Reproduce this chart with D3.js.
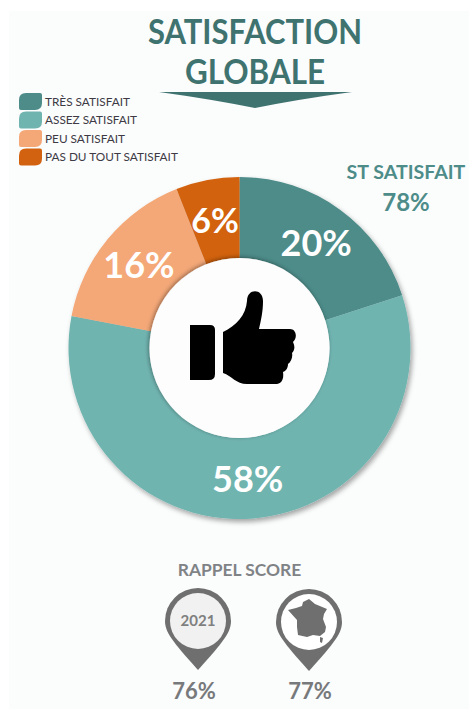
<!DOCTYPE html>
<html><head><meta charset="utf-8">
<script src="https://cdn.jsdelivr.net/npm/d3@7"></script>
<style>html,body{margin:0;padding:0;background:#fff}svg{display:block}text{font-family:Lato,sans-serif}</style>
</head><body><svg id="c" width="469" height="709"></svg>
<script>
const categories=["TRÈS SATISFAIT","ASSEZ SATISFAIT","PEU SATISFAIT","PAS DU TOUT SATISFAIT"];
const values=[20,58,16,6];
const colors=["#4d8c89","#70b4b0","#f4a878","#d2620f"];
const titleLines=["SATISFACTION","GLOBALE"];
const recallYears=["2021","France"];
const recallValues=["76%","77%"];

const svg=d3.select("#c");
const defs=svg.append("defs");
const f=defs.append("filter").attr("id","sh").attr("x","-10%").attr("y","-10%").attr("width","120%").attr("height","120%");
f.append("feDropShadow").attr("dx",2).attr("dy",3).attr("stdDeviation",2.5).attr("flood-color","#000").attr("flood-opacity",.35);
const ins=defs.append("filter").attr("id","ins").attr("x","-10%").attr("y","-10%").attr("width","120%").attr("height","120%");
ins.append("feDropShadow").attr("dx",-1).attr("dy",-1).attr("stdDeviation",2).attr("flood-color","#000").attr("flood-opacity",.4);

svg.append("rect").attr("x",9).attr("y",11).attr("width",460).attr("height",698).attr("fill","#fbfcfc");

// title
const dark="#3f7370";
svg.selectAll("text.t").data(titleLines).join("text").attr("class","t")
 .attr("x",255).attr("y",(d,i)=>44+i*40).attr("text-anchor","middle")
 .attr("font-size",34).attr("font-weight",700).attr("fill",dark).attr("textLength",(d,i)=>i?140:214).attr("lengthAdjust","spacingAndGlyphs").text(d=>d);
svg.append("path").attr("d","M159,92 L352,92 Q300,99 255,108 Q210,99 159,92Z").attr("fill",dark);

// legend
const ly=d3.scaleBand().domain(categories).range([93,167]).paddingInner(0);
const lg=svg.append("g").selectAll("g").data(categories).join("g").attr("transform",d=>`translate(19,${ly(d)})`);
lg.append("path").attr("d","M0,7 Q0,0 7,0 L21,0 Q23,0 23,2 L23,10 Q23,17 16,17 L2,17 Q0,17 0,15Z").attr("fill",(d,i)=>colors[i]);
lg.append("text").attr("x",26).attr("y",12.5).attr("font-size",11.8).attr("fill","#3d3a44").text(d=>d);

// ST
svg.append("text").attr("x",406).attr("y",179).attr("text-anchor","middle").attr("font-size",19.6).attr("font-weight",700).attr("fill","#4d8c89").text("ST SATISFAIT");
svg.append("text").attr("x",406).attr("y",211).attr("text-anchor","middle").attr("font-size",24).attr("font-weight",700).attr("fill","#4d8c89").text(d3.sum(values.slice(0,2))+"%");

// donut
const cx=239.5,cy=348,R=171,r=90;
const pie=d3.pie().sort(null)(values);
const arc=d3.arc().innerRadius(r).outerRadius(R);
const dg=svg.append("g").attr("transform",`translate(${cx},${cy})`);
dg.append("g").attr("filter","url(#sh)").selectAll("path").data(pie).join("path").attr("d",arc).attr("fill",(d,i)=>colors[i]);
dg.append("circle").attr("r",r).attr("fill","#fdfdfd").attr("filter","url(#ins)");
dg.selectAll("text").data(pie).join("text")
 .attr("x",d=>arc.centroid(d)[0])
 .attr("y",d=>arc.centroid(d)[1]+1)
 .attr("dy","0.35em").attr("text-anchor","middle").attr("font-size",(d,i)=>i==3?34:36).attr("font-weight",700).attr("fill","#fff").text(d=>d.value+"%");

// thumb
const th=svg.append("g").attr("fill","#000");
th.append("path").attr("d","M190,325 L210,325 Q215,325 215,330 L215,374 Q215,380 209,380 L190,380Z");
th.append("path").attr("d","M223,332 C236,326 246,315 247,301 C247,288 263,288 263,301 C263,312 261,320 259,329 L290,329 C296,329 298,337 293,342 C295,346 295,350 292,353 C293,357 291,362 288,364 C288,368 286,371 283,372 C284,379 282,384 275,384 L247,384 C236,384 232,376 223,373Z");

// recall
svg.append("text").attr("x",239.5).attr("y",576).attr("text-anchor","middle").attr("font-size",17.4).attr("font-weight",700).attr("fill","#7f8386").text("RAPPEL SCORE");
const grey="#6f6f6f";
const px=d3.scalePoint().domain(recallYears).range([198,309]);
const pins=svg.append("g").selectAll("g").data(recallYears).join("g").attr("transform",(d,i)=>`translate(${px(d)},${621+i})`);
pins.append("path").attr("d","M-33,0 A33,33 0 1 1 33,0 C33,11 26,20 0,49 C-26,20 -33,11 -33,0Z").attr("fill",grey);
pins.append("circle").attr("r",28).attr("fill",(d,i)=>i?"#fff":"#f1f1f1");
pins.filter((d,i)=>i==0).append("text").attr("y",5).attr("text-anchor","middle").attr("font-size",15).attr("font-weight",700).attr("fill","#7f7f7f").text(d=>d);
pins.filter((d,i)=>i==1).append("path").attr("fill",grey).attr("d","M0,-23 L6,-18 L18,-13 L15,-8 L14,-3 L17,5 L16,10 L11,14 L4,13 L-2,15 L-11,13 L-12,5 L-12,-2 L-21,-12 L-13,-14 L-7,-16 L-6,-20Z M11,15 L14,16 L13,21 L11,20Z");
svg.selectAll("text.v").data(recallValues).join("text").attr("class","v")
 .attr("x",(d,i)=>[194,310][i]).attr("y",699).attr("text-anchor","middle").attr("font-size",22).attr("font-weight",700).attr("fill","#77797b").text(d=>d);
</script></body></html>
